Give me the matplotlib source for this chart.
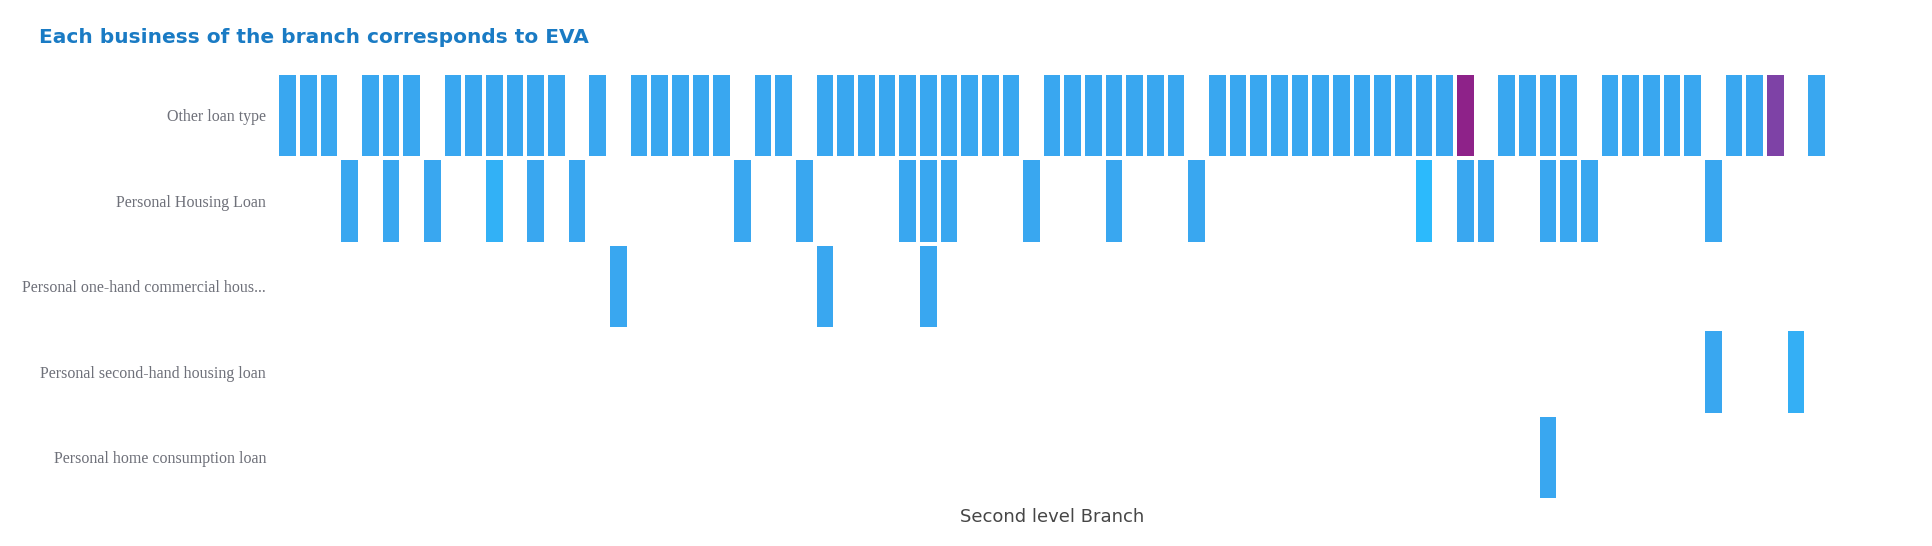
import numpy as np
import matplotlib
matplotlib.use("Agg")
import matplotlib.pyplot as plt
from matplotlib.colors import LinearSegmentedColormap

n_cols = 75
rows = ["Other loan type", "Personal Housing Loan", "Personal one-hand commercial hous...",
        "Personal second-hand housing loan", "Personal home consumption loan"]

other_cols = [0,1,2,4,5,6,8,9,10,11,12,13,15,17,18,19,20,21,23,24,26,27,28,29,30,31,32,33,34,35,
              37,38,39,40,41,42,43,45,46,47,48,49,50,51,52,53,54,55,56,57,59,60,61,62,64,65,66,67,68,70,71,72,74]
other_vals = {57: 10.0, 72: 8.0}
housing_cols = [3,5,7,10,12,14,22,25,30,31,32,36,40,44,55,57,58,61,62,63,69]
housing_vals = {10: 0.6, 55: 0.2}
commercial_cols = [16,26,31]
secondhand_cols = [69,73]
secondhand_vals = {73: 0.7}
consumption_cols = [61]

data = np.full((5, n_cols), np.nan)
for r, cols, special in [(0, other_cols, other_vals), (1, housing_cols, housing_vals),
                         (2, commercial_cols, {}), (3, secondhand_cols, secondhand_vals),
                         (4, consumption_cols, {})]:
    for c in cols:
        data[r, c] = special.get(c, 1.0)

cmap = LinearSegmentedColormap.from_list("c", [(0, "#29BFFF"), (0.1, "#39A7F0"), (0.75, "#7A4AAD"), (1, "#8E2289")])

fig = plt.figure(figsize=(19.32, 5.46), dpi=100)
ax = fig.add_axes([0.1435, 0.084, 0.8022, 0.783])
ax.pcolormesh(np.arange(n_cols + 1), np.arange(6), np.ma.masked_invalid(data), cmap=cmap,
              vmin=0, vmax=10, edgecolor="white", linewidth=1.5)
ax.set_xlim(0, n_cols)
ax.set_ylim(5, 0)
ax.set_yticks(np.arange(5) + 0.5)
ax.set_yticklabels(rows, fontfamily="Liberation Serif", fontsize=11.5, color="#6E7079")
ax.set_xticks([])
ax.tick_params(axis="y", length=0, pad=8)
for s in ax.spines.values():
    s.set_visible(False)
ax.set_xlabel("Second level Branch", fontsize=13, color="#464646", labelpad=6)
fig.text(0.02, 0.932, "Each business of the branch corresponds to EVA", fontsize=14.5,
         fontweight="bold", color="#1A7BC4", va="center")
fig.savefig("out.png", dpi=100)
